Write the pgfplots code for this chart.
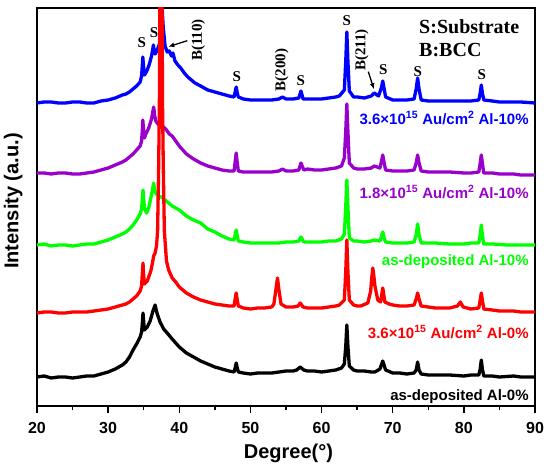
\documentclass[border=0pt]{standalone}
\usepackage{fontspec}
\setmainfont{Liberation Sans}
\newfontfamily\serifb{Liberation Serif}
\usepackage{pgfplots}
\pgfplotsset{compat=1.18}
\usetikzlibrary{arrows.meta}
\definecolor{cpurple}{RGB}{153,0,204}
\definecolor{cgreen}{RGB}{0,255,0}
\definecolor{cblue}{RGB}{0,0,255}
\definecolor{cred}{RGB}{255,0,0}
\begin{document}
\begin{tikzpicture}
\begin{axis}[name=ax, width=498pt, height=398pt, scale only axis,
  xmin=20, xmax=90, ymin=0, ymax=398,
  xtick={20,30,...,90}, minor x tick num=1, ytick=\empty,
  tick align=outside, xtick pos=bottom,
  major tick length=7pt, minor tick length=4pt,
  axis line style={line width=1.5pt},
  every tick/.style={line width=1.5pt, black},
  /pgf/number format/assume math mode=true,
  ticklabel style={font=\bfseries\fontsize{16}{16}\selectfont},
  xticklabel style={yshift=-6pt},
  xlabel={Degree(°)}, ylabel={Intensity (a.u.)},
  label style={font=\bfseries\fontsize{20}{20}\selectfont},
  xlabel style={at={(axis description cs:0.505,-0.118)}, anchor=center},
  ylabel style={at={(axis description cs:-0.048,0.515)}, anchor=center, rotate=0},
  clip mode=individual,
  every axis plot/.style={line width=3.3pt, line join=round, mark=none},
]
% black: as-deposited Al-0%
\addplot[black] coordinates {
(20,29)(21,30)(22,28)(23,29)(24,29)(25,28)(26,29)(27,30)(28,30)(29,32)(30,34)(31,37)(32,41)(32.5,44)(33,49)(33.5,56)(34,62)(34.5,69)(34.7,74)(34.8,82)(34.9,93)(35.0,84)(35.1,76)(35.5,79)(35.9,85)(36.3,95)(36.6,101)(36.9,92)(37.3,84)(37.8,77)(38.3,73)(39,67)(39.5,63)(40,59)(40.5,56)(41,53)(42,49)(43,45)(44,42)(45,39)(46,37)(47,35)(47.7,34)(47.85,38)(48.0,43)(48.15,38)(48.3,34)(49,33)(50,32)(51,33)(52,33)(53,33)(54,34)(55,35)(56,35)(56.5,36)(57.0,39)(57.5,36)(58,35)(59,35)(60,34)(61,35)(62,36)(62.8,38)(63.2,42)(63.4,60)(63.55,81)(63.7,60)(63.9,40)(64.5,36)(65,35)(66,35)(67,34)(67.5,34)(68.2,37)(68.6,45)(69.0,36)(70,33)(71,33)(72,32)(73.0,33)(73.3,36)(73.5,44)(73.7,36)(74,32)(75,31)(76,31)(78,31)(80,30)(81,31)(82.1,31)(82.3,37)(82.45,46)(82.6,37)(82.8,30)(84,30)(85,29)(87,30)(88,29)(90,29)
};
% green: as-deposited Al-10%
\addplot[cgreen] coordinates {
(20,161)(21,162)(22,160)(23,161)(24,161)(25,160)(26,161)(27,162)(28,162)(29,164)(30,166)(31,169)(32,172)(32.5,174)(33,177)(33.5,181)(34,186)(34.5,192)(34.7,197)(34.8,206)(34.9,216)(35.0,206)(35.1,198)(35.4,193)(35.7,198)(36.0,208)(36.2,215)(36.4,223)(36.6,214)(36.8,212)(37.0,210)(37.5,209)(38.0,206)(38.5,203)(39.0,200)(39.5,198)(40,196)(40.5,193)(41,190)(42,186)(43,183)(44,177)(45,174)(46,170)(47,167)(47.7,166)(47.85,171)(48.0,176)(48.15,170)(48.3,165)(49,164)(50,163)(51,163)(52,163)(53,163)(54,163)(55,164)(56,164)(56.8,165)(57.1,169)(57.5,164)(58,164)(59,164)(60,164)(61,165)(62,165)(62.8,167)(63.2,172)(63.4,200)(63.55,226)(63.7,200)(63.9,168)(64.5,165)(65,165)(66,164)(67,165)(67.4,166)(68.2,165)(68.4,169)(68.6,174)(68.8,168)(69,164)(70,163)(71,163)(72,163)(73.0,164)(73.3,171)(73.5,182)(73.7,171)(74,163)(75,163)(76,163)(78,162)(80,162)(81,163)(82.1,163)(82.3,171)(82.45,181)(82.6,171)(82.8,162)(84,162)(86,161)(88,161)(90,161)
};
% purple: 1.8e15 Al-10%
\addplot[cpurple] coordinates {
(20,233)(21,233)(22,232)(23,233)(24,233)(25,232)(26,232)(27,233)(28,234)(29,236)(30,238)(31,241)(32,244)(32.5,246)(33,249)(33.5,252)(34,256)(34.5,260)(34.7,265)(34.8,275)(34.87,286)(35.0,274)(35.1,268)(35.3,272)(35.7,278)(36.1,287)(36.25,293)(36.4,299)(36.55,290)(36.7,285)(37.0,282)(37.4,280)(37.8,279)(38.2,276)(38.6,272)(39.0,270)(39.5,265)(40.1,259)(40.5,256)(41,252)(42,247)(43,243)(44,240)(45,238)(46,236)(47,235)(47.7,235)(47.85,244)(48.0,253)(48.15,243)(48.3,235)(49,234)(50,234)(51,234)(52,234)(53,234)(54,235)(54.5,237)(55,235)(56,235)(56.8,236)(57.1,243)(57.5,236)(58,237)(59,236)(60,236)(61,237)(62,238)(62.8,240)(63.2,248)(63.4,275)(63.55,302)(63.7,275)(63.9,243)(64.5,238)(65,237)(66,237)(67,238)(67.4,240)(68.2,238)(68.4,244)(68.6,251)(68.8,243)(69,236)(70,235)(71,235)(72,235)(73.0,236)(73.3,243)(73.5,251)(73.7,243)(74,235)(75,234)(76,234)(78,234)(80,233)(81,233)(82.1,234)(82.3,243)(82.45,251)(82.6,243)(82.8,233)(84,233)(85,232)(87,232)(88,231)(90,231)
};
% blue: 3.6e15 Al-10%
\addplot[cblue] coordinates {
(20,303)(21,304)(22,304)(23,303)(24,303)(25,304)(26,304)(27,303)(28,303)(29,305)(30,306)(31,308)(32,311)(32.5,312)(33,314)(33.5,317)(34,320)(34.5,324)(34.7,330)(34.8,340)(34.87,349)(35.0,338)(35.1,331)(35.2,332)(35.5,336)(35.8,342)(36.1,350)(36.25,356)(36.36,361)(36.5,354)(36.6,352)(36.9,356)(37.2,362)(37.4,378)(37.6,396)(37.75,378)(38.0,360)(38.3,354)(38.6,355)(38.9,350)(39.1,353)(39.4,345)(39.8,341)(40.2,338)(40.7,333)(41.2,329)(41.7,326)(42.2,323)(43,320)(44,316)(45,314)(46,312)(47,310)(47.7,309)(47.85,314)(48.0,319)(48.15,313)(48.3,309)(49,307)(50,306)(51,306)(52,306)(53,306)(54,307)(54.5,309)(55,307)(56,307)(56.8,308)(57.1,315)(57.4,307)(58,307)(59,307)(60,307)(61,308)(62,309)(62.5,310)(63.2,316)(63.4,345)(63.55,374)(63.7,345)(63.9,315)(64.5,309)(65,309)(66,308)(67,310)(67.4,313)(68,310)(68.4,318)(68.6,325)(68.8,317)(69.0,309)(70,306)(71,306)(72,306)(73.0,307)(73.3,317)(73.5,328)(73.7,317)(74,306)(75,305)(76,305)(78,305)(80,305)(81,305)(82.1,306)(82.3,313)(82.45,321)(82.6,313)(82.8,306)(84,305)(85,304)(87,304)(88,304)(90,303)
};
% red: 3.6e15 Al-0%
\addplot[cred] coordinates {
(20,93)(21,94)(22,94)(23,93)(24,93)(25,94)(26,94)(27,94)(28,95)(29,96)(30,97)(31,99)(32,101)(32.5,102)(33,104)(33.5,107)(34,110)(34.5,115)(34.7,120)(34.8,132)(34.9,143)(35.0,130)(35.1,122)(35.5,125)(36.0,135)(36.2,142)(36.4,150)(36.6,153)(36.8,160)(36.95,175)(37.1,240)(37.2,300)(37.42,620)(37.65,300)(37.75,240)(37.9,175)(38.2,145)(38.5,136)(39,128)(39.5,124)(40,119)(40.5,116)(41,113)(42,109)(43,106)(44,104)(45,102)(46,101)(47,100)(47.7,100)(47.85,107)(48.0,113)(48.15,106)(48.3,100)(49,98)(50,97)(51,98)(52,98)(53,99)(53.3,102)(53.55,115)(53.8,128)(54.05,114)(54.3,102)(55,99)(56,99)(56.7,100)(57.0,103)(57.4,99)(58,98)(59,98)(60,98)(61,99)(62,100)(62.5,101)(63.2,106)(63.4,135)(63.55,166)(63.7,135)(63.9,106)(64.5,101)(65,100)(65.5,100)(66.5,103)(66.9,115)(67.05,128)(67.2,138)(67.35,130)(67.5,120)(67.9,106)(68.3,104)(68.45,111)(68.6,118)(68.75,111)(68.9,104)(69.5,102)(70,101)(71,100)(72,100)(73.0,101)(73.3,107)(73.5,113)(73.7,107)(74,100)(75,99)(76,98)(78,98)(79.1,100)(79.5,104)(79.9,99)(81,97)(82.1,98)(82.3,106)(82.45,113)(82.6,106)(82.8,97)(84,96)(85,95)(87,95)(88,94)(90,94)
};
% curve labels
\node[anchor=east, text=cblue, font=\bfseries\fontsize{15}{15}\selectfont] at (axis cs:89.6,288) {3.6×10\textsuperscript{15} Au/cm\textsuperscript{2} Al-10\%};
\node[anchor=east, text=cpurple, font=\bfseries\fontsize{15}{15}\selectfont] at (axis cs:89.6,214) {1.8×10\textsuperscript{15} Au/cm\textsuperscript{2} Al-10\%};
\node[anchor=east, text=cgreen, font=\bfseries\fontsize{15}{15}\selectfont] at (axis cs:89.6,144) {as-deposited Al-10\%};
\node[anchor=east, text=cred, font=\bfseries\fontsize{15}{15}\selectfont] at (axis cs:89.6,74) {3.6×10\textsuperscript{15} Au/cm\textsuperscript{2} Al-0\%};
\node[anchor=east, text=black, font=\bfseries\fontsize{15}{15}\selectfont] at (axis cs:89.6,9) {as-deposited Al-0\%};
% peak annotations
\tikzset{ann/.style={font=\serifb\bfseries\fontsize{15}{15}\selectfont, inner sep=0pt}}
\node[ann] at (axis cs:34.72,363) {S};
\node[ann] at (axis cs:36.45,373) {S};
\node[ann, rotate=90] at (axis cs:42.67,366) {B(110)};
\draw[-{Latex[length=6pt,width=5pt]}, line width=1.3pt] (axis cs:41.13,365.3) -- (axis cs:38.46,359.3);
\node[ann] at (axis cs:48.07,329) {S};
\node[ann, rotate=90] at (axis cs:54.4,336) {B(200)};
\node[ann] at (axis cs:57.07,325) {S};
\node[ann] at (axis cs:63.53,385) {S};
\node[ann, rotate=90] at (axis cs:65.64,356) {B(211)};
\draw[-{Latex[length=6pt,width=5pt]}, line width=1.3pt] (axis cs:66.57,334.3) -- (axis cs:67.37,316.7);
\node[ann] at (axis cs:68.68,336) {S};
\node[ann] at (axis cs:73.51,334.3) {S};
\node[ann] at (axis cs:82.51,331) {S};
\node[anchor=base west, font=\serifb\bfseries\fontsize{20}{20}\selectfont, inner sep=0pt] at (axis cs:73.7,372) {S:Substrate};
\node[anchor=base west, font=\serifb\bfseries\fontsize{20}{20}\selectfont, inner sep=0pt] at (axis cs:73.7,349) {B:BCC};
\end{axis}
\pgfresetboundingbox
\path ([xshift=-37pt,yshift=-57pt]ax.south west) rectangle ([xshift=15pt,yshift=8pt]ax.north east);
\end{tikzpicture}
\end{document}
